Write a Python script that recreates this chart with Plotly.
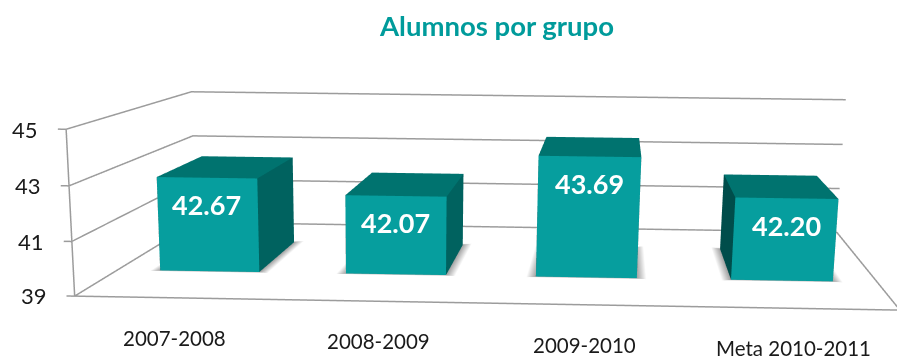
import plotly.graph_objects as go

categories = ["2007-2008", "2008-2009", "2009-2010", "Meta 2010-2011"]
values = [42.67, 42.07, 43.69, 42.20]
z_ticks = [39, 41, 43, 45]

# Scene geometry (x: one unit per category, y: 0 front to 1 back)
BAR_LEFT = (0.22647, 1.21636, 2.21945, 3.24075)
BAR_WIDTH, BAR_FRONT, BAR_BACK = 0.52937, 0.30249, 0.70813
FLOOR = z_ticks[0]
W, H = 897, 2000
LIGHT = dict(ambient=1, diffuse=0, specular=0, fresnel=0, roughness=1)

fig = go.Figure()


def line(x, y, z):
    fig.add_trace(go.Scatter3d(x=x, y=y, z=z, mode="lines", line=dict(color="#9c9c9c", width=3),
                               hoverinfo="skip", showlegend=False))


for t in z_ticks:
    line([-0.04, 0, 0, 4], [0, 0, 1, 1], [t, t, t, t])
line([0, 0], [0, 0], [z_ticks[0], z_ticks[-1]])
line([0, 4, 4], [0, 0, 1], [FLOOR, FLOOR, FLOOR])

for x0, v in zip(BAR_LEFT, values):
    x1 = x0 + BAR_WIDTH
    gx, gy = 0.05, 0.02
    fig.add_trace(go.Mesh3d(
        x=[x0, x1, x1, x0, x0 - gx, x1 + gx, x1 + gx, x0 - gx],
        y=[BAR_FRONT, BAR_FRONT, BAR_BACK, BAR_BACK, BAR_FRONT - gy / 2, BAR_FRONT - gy / 2, BAR_BACK + gy, BAR_BACK + gy],
        z=[FLOOR] * 8,
        i=[0, 0, 1, 1, 2, 2, 3, 3], j=[1, 5, 2, 6, 3, 7, 0, 4], k=[5, 4, 6, 5, 7, 6, 4, 7],
        vertexcolor=["#a0a0a0"] * 4 + ["#ffffff"] * 4, lighting=LIGHT, hoverinfo="skip"))
    fig.add_trace(go.Mesh3d(
        x=[x0, x1, x1, x0, x0, x1, x1, x0],
        y=[BAR_FRONT, BAR_FRONT, BAR_BACK, BAR_BACK] * 2,
        z=[FLOOR] * 4 + [v] * 4,
        i=[0, 0, 1, 1, 3, 3, 4, 4], j=[1, 5, 2, 6, 0, 4, 5, 6], k=[5, 4, 6, 5, 4, 7, 6, 7],
        facecolor=["#069e9e"] * 2 + ["#00625f"] * 2 + ["#004d4b"] * 2 + ["#00736f"] * 2,
        flatshading=True, lighting=LIGHT, hoverinfo="skip"))

ann = []
for t in z_ticks:
    ann.append(dict(x=-0.04, y=0, z=t, text=str(t), showarrow=False, xanchor="right", xshift=-18,
                    font=dict(family="Lato", size=22, color="#1a1a1a")))
for b, v in enumerate(values):
    ann.append(dict(x=BAR_LEFT[b] + BAR_WIDTH / 2, y=BAR_FRONT, z=v, text=f"{v:.2f}", showarrow=False, yshift=-27,
                    font=dict(family="Lato", size=27, color="white", weight=700)))
    ann.append(dict(x=b + .5, y=0, z=FLOOR, text=categories[b], showarrow=False, xshift=-2, yshift=-40,
                    font=dict(family="Lato", size=20.5, color="#1a1a1a")))

fig.update_layout(
    width=W, height=H, margin=dict(l=0, r=0, t=0, b=0), paper_bgcolor="white", showlegend=False,
    title=dict(text="<b>Alumnos por grupo</b>", x=497 / W, xanchor="center", y=1 - 26 / H, yanchor="middle",
               font=dict(family="Lato", size=27.5, color="#009b9b")),
    scene=dict(
        domain=dict(x=[0, 1], y=[0, 1]),
        xaxis=dict(range=[-1, 5], visible=False),
        yaxis=dict(range=[-.5, 1.5], visible=False),
        zaxis=dict(range=[36, 48], visible=False),
        aspectmode="manual", aspectratio=dict(x=3.0, y=3.67212, z=0.76856),
        camera=dict(eye=dict(x=0.30009, y=-6.94587, z=0.56492),
                    center=dict(x=0.02017, y=-2.37679, z=-1.40265),
                    up=dict(x=-0.00558, y=-0.04221, z=1),
                    projection=dict(type="perspective")),
        annotations=ann,
        dragmode=False,
    ),
)
fig.write_html("out.html", config=dict(displayModeBar=False),
               post_script="document.body.style.margin='0';document.documentElement.style.overflow='hidden';document.body.style.overflow='hidden';")
